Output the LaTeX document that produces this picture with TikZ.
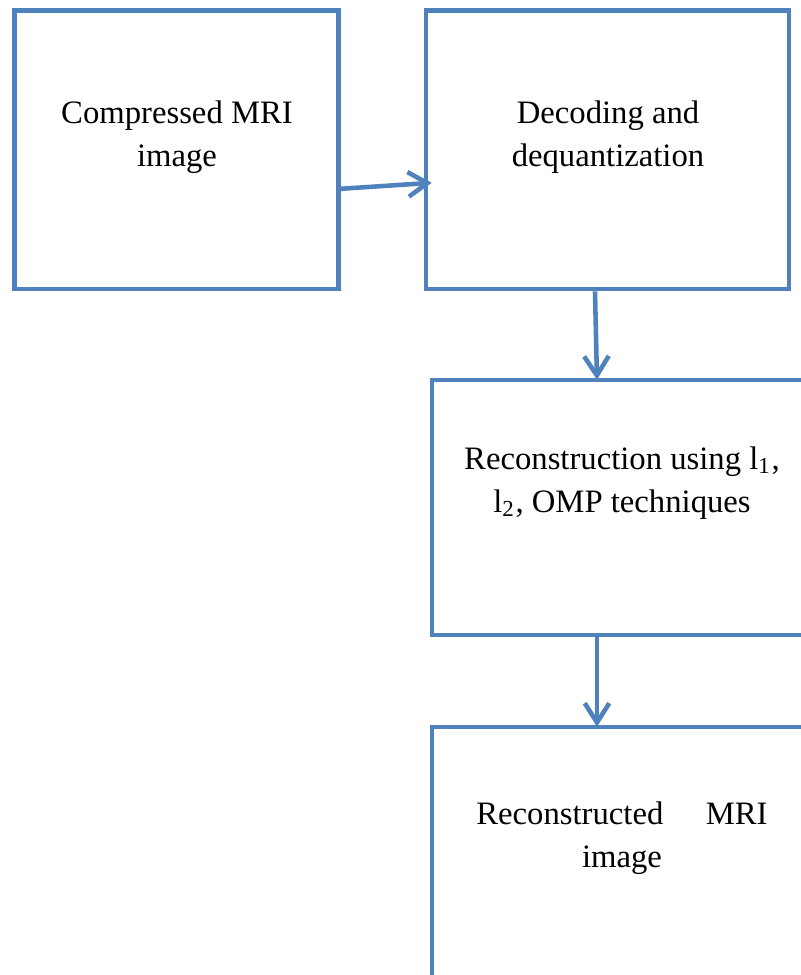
\documentclass[tikz,border=0pt]{standalone}
\usepackage{fontspec}
\setmainfont{Liberation Serif}
\usetikzlibrary{arrows.meta}
\definecolor{boxblue}{RGB}{79,129,189}

\begin{document}
\begin{tikzpicture}[
  block/.style = {draw = boxblue, line width = 1.3pt, rectangle, inner sep = 0pt},
  lbl/.style = {align = center, inner sep = 0pt, font = \fontsize{9.3}{12.2}\selectfont},
  flow/.style = {draw = boxblue, line width = 1.3pt, -{Straight Barb[length=5.5pt, width=7pt, line width=1.3pt]}}
]
\useasboundingbox (0,0) rectangle (8.01,-9.75);
\clip (0,0) rectangle (8.01,-9.75);
\node [block, minimum width = 3.24cm, minimum height = 2.785cm] (comp) at (1.765,-1.498) {};
\node [block, minimum width = 3.63cm, minimum height = 2.785cm] (dec) at (6.075,-1.498) {};
\node [block, minimum width = 3.8cm, minimum height = 2.55cm] (rec) at (6.22,-5.075) {};
\node [block, minimum width = 3.8cm, minimum height = 2.55cm] (out) at (6.22,-8.545) {};
\node [lbl] (tcomp) at (1.77,-1.37) {Compressed MRI\\image};
\node [lbl] (tdec) at (6.08,-1.37) {Decoding and\\dequantization};
\node [lbl] (trec) at (6.22,-4.83) {Reconstruction using l\textsubscript{1},\\l\textsubscript{2}, OMP techniques};
\node [lbl] (tout) at (6.22,-8.38) {Reconstructed\hspace{1.3em}MRI\\image};
\draw [flow] ([yshift=-0.39cm]comp.east) -- ([xshift=0.08cm, yshift=-0.33cm]dec.west);
\draw [flow] ([xshift=-0.125cm]dec.south) -- ([xshift=-0.25cm, yshift=-0.02cm]rec.north);
\draw [flow] ([xshift=-0.25cm]rec.south) -- ([xshift=-0.25cm, yshift=-0.02cm]out.north);
\end{tikzpicture}
\end{document}
